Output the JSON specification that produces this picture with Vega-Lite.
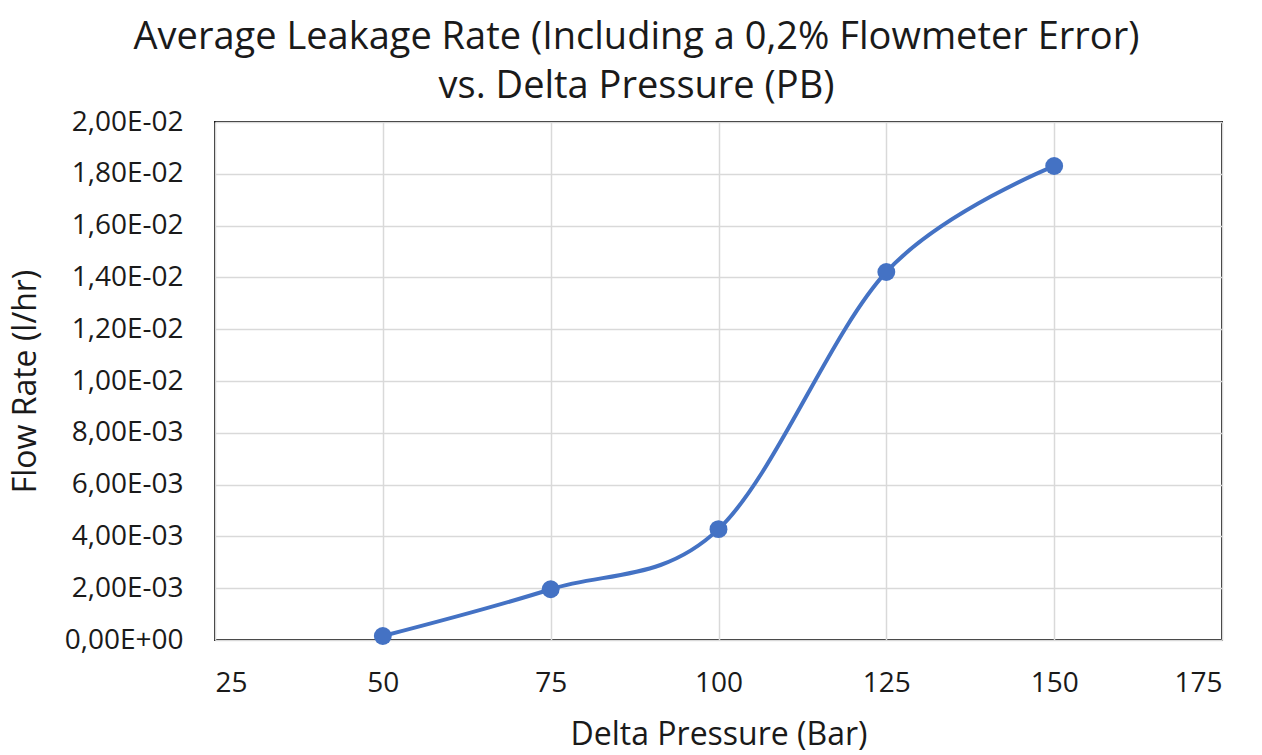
{
  "$schema": "https://vega.github.io/schema/vega-lite/v6.json",
  "width": 1007,
  "height": 518,
  "autosize": {"type": "none"},
  "padding": {"left": 215, "top": 122, "right": 40, "bottom": 115},
  "background": "white",
  "title": {
    "text": ["Average Leakage Rate (Including a 0,2% Flowmeter Error)", "vs. Delta Pressure (PB)"],
    "font": "Open Sans",
    "fontSize": 38,
    "fontWeight": "normal",
    "color": "#1a1a1a",
    "anchor": "middle",
    "dx": -82,
    "offset": 2,
    "lineHeight": 49
  },
  "config": {
    "view": {"stroke": "#1a1a1a", "strokeWidth": 2},
    "axis": {
      "labelFont": "Open Sans",
      "labelFontSize": 28,
      "labelColor": "#1a1a1a",
      "titleFont": "Open Sans",
      "titleFontSize": 32,
      "titleFontWeight": "normal",
      "titleColor": "#1a1a1a",
      "ticks": false,
      "domain": false,
      "gridColor": "#d9d9d9",
      "gridWidth": 1.5
    }
  },
  "data": {
    "values": [
      {"pressure": 50, "flow": 0.000154},
      {"pressure": 75, "flow": 0.00196},
      {"pressure": 100, "flow": 0.00428},
      {"pressure": 125, "flow": 0.01421},
      {"pressure": 150, "flow": 0.0183}
    ]
  },
  "encoding": {
    "x": {
      "field": "pressure",
      "type": "quantitative",
      "scale": {"domain": [25, 175], "nice": false, "zero": false},
      "axis": {
        "values": [25, 50, 75, 100, 125, 150, 175],
        "title": "Delta Pressure (Bar)",
        "labelPadding": 29,
        "titlePadding": 22
      }
    },
    "y": {
      "field": "flow",
      "type": "quantitative",
      "scale": {"domain": [0, 0.02], "nice": false},
      "axis": {
        "values": [0, 0.002, 0.004, 0.006, 0.008, 0.01, 0.012, 0.014, 0.016, 0.018, 0.02],
        "title": "Flow Rate (l/hr)",
        "labelPadding": 32,
        "titlePadding": 22,
        "labelExpr": "replace(split(format(datum.value,'.2e'),'e')[0],'.',',') + 'E' + (toNumber(split(format(datum.value,'.2e'),'e')[1]) < 0 ? '-' : '+') + (abs(toNumber(split(format(datum.value,'.2e'),'e')[1])) < 10 ? '0' : '') + abs(toNumber(split(format(datum.value,'.2e'),'e')[1]))"
      }
    }
  },
  "layer": [
    {
      "mark": {"type": "line", "interpolate": "cardinal", "color": "#4472C4", "strokeWidth": 4}
    },
    {
      "mark": {"type": "point", "filled": true, "opacity": 1, "color": "#4472C4", "size": 320}
    }
  ]
}
